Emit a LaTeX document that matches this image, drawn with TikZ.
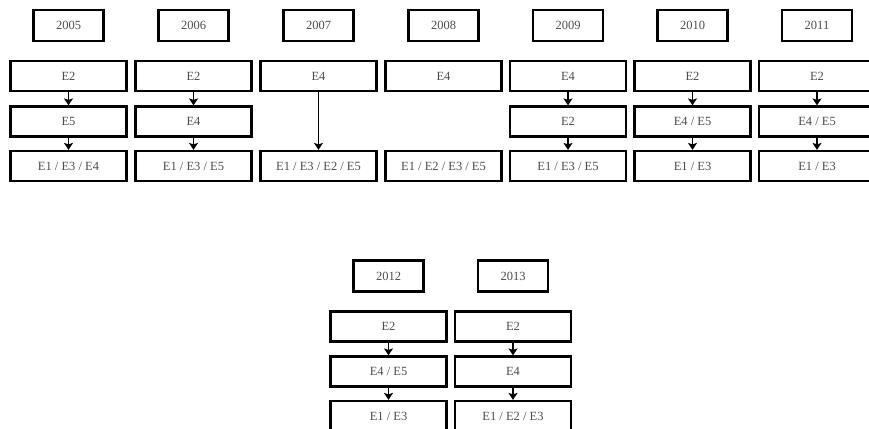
\documentclass[tikz,border=0pt]{standalone}
\usepackage{fontspec}
\setmainfont{Liberation Serif}
\usetikzlibrary{arrows.meta}
\begin{document}
\begin{tikzpicture}[x=1pt,y=-1pt,
  yearbox/.style={draw,line width=2.2pt,minimum width=70pt,minimum height=31pt,inner sep=0pt,text=black!70,font=\fontsize{12.5}{14}\selectfont},
  stagebox/.style={draw,line width=2.2pt,minimum width=116pt,minimum height=30pt,inner sep=0pt,text=black!70,font=\fontsize{12.5}{14}\selectfont},
  flow/.style={line width=1.8pt,-{Stealth[length=7pt,width=9pt,inset=1.5pt]}}]
\useasboundingbox (0,0) rectangle (869,428);
\clip (0,0) rectangle (869,428);
% column 2005
\node[yearbox] (y05) at (68.5,25.5) {2005};
\node[stagebox] (a05) at (68.5,76) {E2};
\node[stagebox] (b05) at (68.5,121.5) {E5};
\node[stagebox] (c05) at (68.5,166) {E1 / E3 / E4};
\draw[flow] (a05) -- (b05); \draw[flow] (b05) -- (c05);
% 2006
\node[yearbox] (y06) at (193.5,25.5) {2006};
\node[stagebox] (a06) at (193.5,76) {E2};
\node[stagebox] (b06) at (193.5,121.5) {E4};
\node[stagebox] (c06) at (193.5,166) {E1 / E3 / E5};
\draw[flow] (a06) -- (b06); \draw[flow] (b06) -- (c06);
% 2007
\node[yearbox] (y07) at (318.5,25.5) {2007};
\node[stagebox] (a07) at (318.5,76) {E4};
\node[stagebox] (c07) at (318.5,166) {E1 / E3 / E2 / E5};
\draw[flow] (a07) -- (c07);
% 2008
\node[yearbox] (y08) at (443.5,25.5) {2008};
\node[stagebox] (a08) at (443.5,76) {E4};
\node[stagebox] (c08) at (443.5,166) {E1 / E2 / E3 / E5};
% 2009
\node[yearbox] (y09) at (568,25.5) {2009};
\node[stagebox] (a09) at (568,76) {E4};
\node[stagebox] (b09) at (568,121.5) {E2};
\node[stagebox] (c09) at (568,166) {E1 / E3 / E5};
\draw[flow] (a09) -- (b09); \draw[flow] (b09) -- (c09);
% 2010
\node[yearbox] (y10) at (692.5,25.5) {2010};
\node[stagebox] (a10) at (692.5,76) {E2};
\node[stagebox] (b10) at (692.5,121.5) {E4 / E5};
\node[stagebox] (c10) at (692.5,166) {E1 / E3};
\draw[flow] (a10) -- (b10); \draw[flow] (b10) -- (c10);
% 2011
\node[yearbox] (y11) at (817,25.5) {2011};
\node[stagebox] (a11) at (817,76) {E2};
\node[stagebox] (b11) at (817,121.5) {E4 / E5};
\node[stagebox] (c11) at (817,166) {E1 / E3};
\draw[flow] (a11) -- (b11); \draw[flow] (b11) -- (c11);
% 2012
\node[yearbox] (y12) at (388.5,276) {2012};
\node[stagebox] (a12) at (388.5,326.5) {E2};
\node[stagebox] (b12) at (388.5,371.5) {E4 / E5};
\node[stagebox] (c12) at (388.5,416) {E1 / E3};
\draw[flow] (a12) -- (b12); \draw[flow] (b12) -- (c12);
% 2013
\node[yearbox] (y13) at (513,276) {2013};
\node[stagebox] (a13) at (513,326.5) {E2};
\node[stagebox] (b13) at (513,371.5) {E4};
\node[stagebox] (c13) at (513,416) {E1 / E2 / E3};
\draw[flow] (a13) -- (b13); \draw[flow] (b13) -- (c13);
\end{tikzpicture}
\end{document}
